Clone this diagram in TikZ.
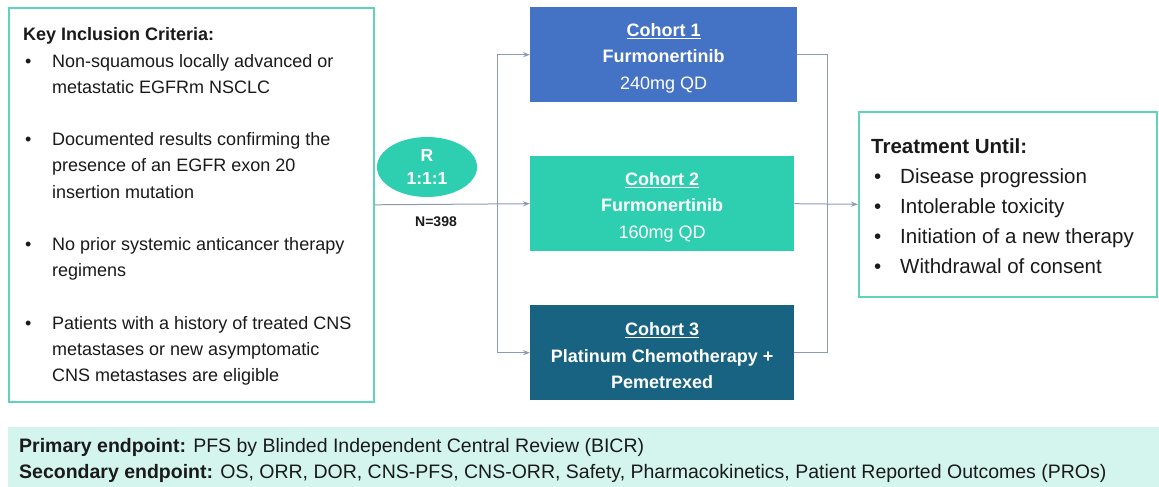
\documentclass[tikz,border=0pt]{standalone}
\usepackage{fontspec}
\setmainfont{Liberation Sans}
\usepackage{xcolor}
\usetikzlibrary{arrows.meta,shapes.geometric,positioning}

\definecolor{cohortblue}{RGB}{68,114,196}
\definecolor{cohortteal}{RGB}{46,206,176}
\definecolor{cohortdark}{RGB}{24,98,130}
\definecolor{frameteal}{RGB}{96,212,186}
\definecolor{linegray}{RGB}{142,154,180}
\definecolor{mintfill}{RGB}{212,245,238}
\definecolor{textdark}{RGB}{26,26,26}

\begin{document}
\begin{tikzpicture}[x=1pt,y=-1pt,
  framebox/.style={draw=frameteal,line width=1.6pt,fill=white},
  cohort/.style={minimum height=95pt,inner sep=0pt,anchor=north west},
  cohorttext/.style={align=center,inner sep=0pt,text=white,font=\fontsize{18}{26.5}\selectfont\bfseries},
  link/.style={draw=linegray,line width=1pt},
  arr/.style={link,-{Stealth[length=7pt,width=5pt]}}]
  \useasboundingbox (0,0) rectangle (1159,487);

  % inclusion criteria
  \node[framebox,minimum width=365pt,minimum height=394pt,anchor=north west] (crit) at (8,7) {};
  \node[anchor=base west,inner sep=0pt,text=textdark,font=\fontsize{18}{26.2}\selectfont] (critText) at (23,41)
  {\begin{tabular}[t]{@{}p{29pt}@{}l@{}}
    \multicolumn{2}{@{}l}{\bfseries Key Inclusion Criteria:}\\
    \hspace*{2pt}\textbullet & Non-squamous locally advanced or\\
     & metastatic EGFRm NSCLC\\[26.2pt]
    \hspace*{2pt}\textbullet & Documented results confirming the\\
     & presence of an EGFR exon 20\\
     & insertion mutation\\[26.2pt]
    \hspace*{2pt}\textbullet & No prior systemic anticancer therapy\\
     & regimens\\[26.2pt]
    \hspace*{2pt}\textbullet & Patients with a history of treated CNS\\
     & metastases or new asymptomatic\\
     & CNS metastases are eligible
  \end{tabular}};

  % cohorts
  \node[cohort,fill=cohortblue,minimum width=267pt] (coh1) at (530,7) {};
  \node[cohort,fill=cohortteal,minimum width=264pt] (coh2) at (530,156) {};
  \node[cohort,fill=cohortdark,minimum width=264pt] (coh3) at (530,305) {};
  \node[cohorttext] (coh1Text) at ([yshift=-3.5pt]coh1.center)
    {\underline{Cohort 1}\\Furmonertinib\\{\mdseries 240mg QD}};
  \node[cohorttext] (coh2Text) at ([yshift=-3.5pt]coh2.center)
    {\underline{Cohort 2}\\Furmonertinib\\{\mdseries 160mg QD}};
  \node[cohorttext] (coh3Text) at ([yshift=-3pt]coh3.center)
    {\underline{Cohort 3}\\Platinum Chemotherapy +\\Pemetrexed};

  % randomisation
  \node[ellipse,fill=cohortteal,minimum width=100pt,minimum height=60pt,inner sep=0pt,
    align=center,text=white,font=\fontsize{17.5}{23}\selectfont\bfseries] (rand) at (427,167) {R\\1:1:1};
  \node[font=\fontsize{14}{16}\selectfont\bfseries,text=textdark] (nTotal) at (436,222) {N=398};

  % treatment box
  \node[framebox,minimum width=298pt,minimum height=185pt,anchor=north west] (treat) at (858,111) {};
  \node[anchor=base west,inner sep=0pt,text=textdark,font=\fontsize{20.5}{30}\selectfont] (treatText) at (871,153)
  {\begin{tabular}[t]{@{}p{29pt}@{}l@{}}
    \multicolumn{2}{@{}l}{\bfseries Treatment Until:}\\
    \hspace*{3pt}\textbullet & Disease progression\\
    \hspace*{3pt}\textbullet & Intolerable toxicity\\
    \hspace*{3pt}\textbullet & Initiation of a new therapy\\
    \hspace*{3pt}\textbullet & Withdrawal of consent
  \end{tabular}};

  % connectors
  \coordinate (split) at (497,205);
  \coordinate (join) at (827,205);
  \draw[arr] (crit.east) -- (coh2.west);
  \draw[arr] (split) |- (coh1.west);
  \draw[arr] (split) |- (coh3.west);
  \draw[link] (coh1.east) -| (join);
  \draw[link] (coh3.east) -| (join);
  \draw[arr] (coh2.east) -- (treat.west);

  % endpoints
  \node[fill=mintfill,minimum width=1151pt,minimum height=60pt,anchor=north west,inner sep=0pt] (endpts) at (8,427) {};
  \node[anchor=base west,inner sep=0pt,text=textdark,font=\fontsize{19.5}{26}\selectfont] (endText) at (19,452)
    {\begin{tabular}[t]{@{}l@{}}
     \textbf{Primary endpoint:} PFS by Blinded Independent Central Review (BICR)\\
     \textbf{Secondary endpoint:} OS, ORR, DOR, CNS-PFS, CNS-ORR, Safety, Pharmacokinetics, Patient Reported Outcomes (PROs)
     \end{tabular}};
\end{tikzpicture}
\end{document}
